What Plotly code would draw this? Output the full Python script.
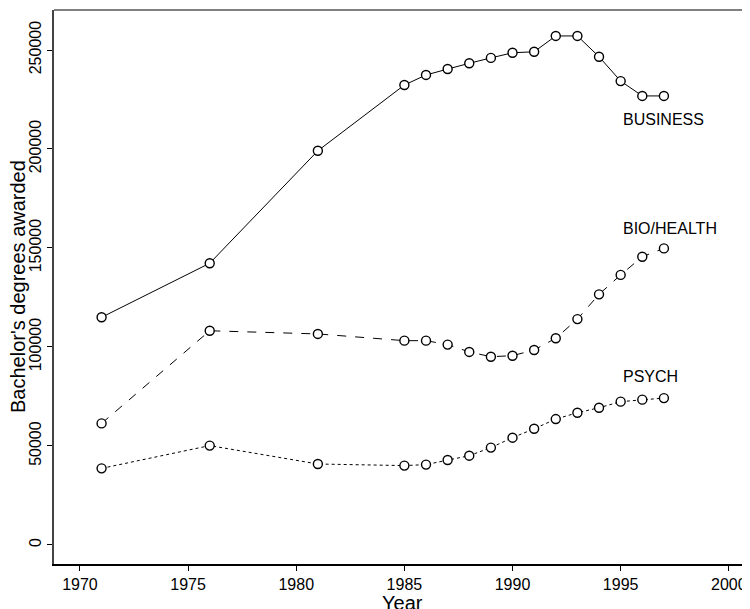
import plotly.graph_objects as go

years = [1971, 1976, 1981, 1985, 1986, 1987, 1988, 1989, 1990, 1991, 1992, 1993, 1994, 1995, 1996, 1997]
business = [115000, 142300, 199100, 232300, 237400, 240400, 243300, 246000, 248600, 249100, 257100, 257100, 246600, 234300, 226800, 226800]
bio_health = [61400, 108200, 106600, 103200, 103200, 101200, 97500, 95100, 95600, 98500, 104400, 114100, 126600, 136400, 145600, 149800]
psych = [38700, 50200, 40900, 40100, 40600, 42900, 45100, 49200, 54200, 58700, 63600, 66800, 69300, 72400, 73400, 74200]

series = [("BUSINESS", business, "solid", 215000),
          ("BIO/HEALTH", bio_health, "dash", 160000),
          ("PSYCH", psych, "dot", 85000)]
label_x = 1995

x_ticks = [1970, 1975, 1980, 1985, 1990, 1995, 2000]
y_ticks = [0, 50000, 100000, 150000, 200000, 250000]
y_tick_text = ["0", "50000", "100000", "150000", "200000", "250000"]

FONT = "Liberation Sans, Arial, sans-serif"

fig = go.Figure()
for name, vals, dash, ly in series:
    fig.add_trace(go.Scatter(
        x=years, y=vals, mode="lines+markers", name=name,
        line=dict(color="black", width=1, dash=dash),
        marker=dict(symbol="circle", size=9, color="white",
                    line=dict(color="black", width=1.4)),
        showlegend=False,
    ))
    fig.add_annotation(x=label_x, y=ly, text=name, showarrow=False,
                       xanchor="left", yanchor="middle",
                       font=dict(family=FONT, size=16, color="black"))

fig.add_shape(type="line", xref="paper", yref="paper", x0=0, x1=1, y0=1, y1=1,
              line=dict(color="#808080", width=2))

# axis titles placed as annotations
fig.add_annotation(xref="paper", yref="paper", x=0.5, y=0, yshift=-26,
                   text="Year", showarrow=False, xanchor="center", yanchor="top",
                   font=dict(family=FONT, size=20, color="black"))
fig.add_annotation(xref="paper", yref="paper", x=0, xshift=-23, y=0.5,
                   text="Bachelor's degrees awarded", showarrow=False, textangle=-90,
                   xanchor="right", yanchor="middle",
                   font=dict(family=FONT, size=20, color="black"))

# page body has an 8px margin, so the figure is sized/margined to compensate
fig.update_layout(
    width=742, height=601,
    margin=dict(l=46, r=0, t=2, b=45),
    paper_bgcolor="white", plot_bgcolor="white",
    font=dict(family=FONT, color="black"),
    xaxis=dict(range=[1968.8, 2000.98], tickvals=x_ticks, ticks="outside",
               ticklen=5, tickcolor="black", showgrid=False, zeroline=False,
               showline=True, linecolor="black", linewidth=1.5, automargin=False,
               tickfont=dict(size=16, family=FONT)),
    yaxis=dict(range=[-9600, 270200], tickvals=y_ticks, ticktext=y_tick_text,
               ticks="outside", ticklen=5, tickcolor="black", showgrid=False,
               zeroline=False, showline=True, linecolor="#444444", linewidth=1.5,
               automargin=False, tickangle=-90, tickfont=dict(size=16, family=FONT)),
)

fig.write_html("out.html")
